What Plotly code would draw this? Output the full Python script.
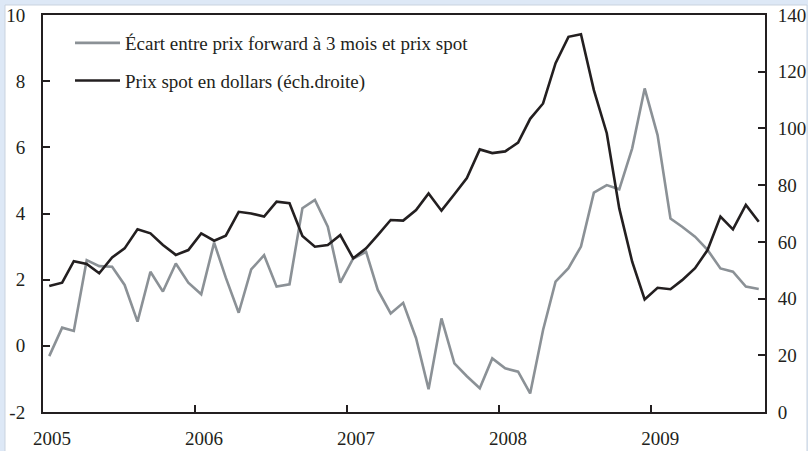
import pandas as pd
import plotly.graph_objects as go

# Monthly observations, Jan 2005 - Sep 2009
start_month = "2005-01-01"
n_months = 57

ecart = [-0.31, 0.55, 0.45, 2.59, 2.41, 2.39, 1.84, 0.73, 2.24, 1.64, 2.49, 1.91,
         1.56, 3.12, 2.06, 1.00, 2.31, 2.74, 1.79, 1.86, 4.16, 4.41, 3.60, 1.91,
         2.64, 2.84, 1.69, 0.98, 1.30, 0.23, -1.31, 0.83, -0.53, -0.92, -1.28, -0.38,
         -0.68, -0.78, -1.44, 0.48, 1.94, 2.35, 3.00, 4.63, 4.86, 4.73, 5.97, 7.78,
         6.37, 3.85, 3.60, 3.30, 2.90, 2.34, 2.24, 1.79, 1.72]

spot = [44.4, 45.6, 53.2, 52.2, 48.9, 54.5, 57.7, 64.4, 63.0, 58.9, 55.4, 57.1,
        63.0, 60.4, 62.2, 70.6, 70.0, 68.9, 74.2, 73.6, 62.1, 58.3, 58.9, 62.4,
        54.2, 57.7, 62.4, 67.7, 67.5, 71.2, 77.1, 71.0, 76.8, 82.5, 92.6, 91.3,
        91.9, 95.0, 103.4, 108.8, 123.0, 132.3, 133.2, 113.5, 98.3, 71.8, 53.0, 39.7,
        43.8, 43.3, 46.5, 50.7, 57.1, 68.9, 64.4, 73.0, 67.1]

year_labels = ["2005", "2006", "2007", "2008", "2009"]
left_ticks = [-2, 0, 2, 4, 6, 8, 10]
left_tick_text = ["-2", "0", "2", "4", "6", "8", "10"]
right_ticks = [0, 20, 40, 60, 80, 100, 120, 140]

name_ecart = "Écart entre prix forward à 3 mois et prix spot"
name_spot = "Prix spot en dollars (éch.droite)"

dates = pd.date_range(start_month, periods=n_months, freq="MS") + pd.Timedelta(days=15)
year_ticks = [f"{y}-01-01" for y in year_labels]

FONT = "Liberation Serif, DejaVu Serif, serif"
INK = "#231f20"
GRAY = "#8b9196"

fig = go.Figure()
fig.add_trace(go.Scatter(x=dates, y=ecart, name=name_ecart, mode="lines",
                         line=dict(color=GRAY, width=2.6), legendgroup="a"))
fig.add_trace(go.Scatter(x=dates, y=spot, name=name_spot, mode="lines",
                         line=dict(color=INK, width=2.6), yaxis="y2", legendgroup="b"))

W, H = 808, 451
ml, mr, mt, mb = 43, 43, 15, 39
pw, ph = W - ml - mr, H - mt - mb

def px_x(p):
    return (p - ml) / pw

def px_y(p):
    return (H - mb - p) / ph

fig.update_layout(
    width=W, height=H,
    margin=dict(l=ml, r=mr, t=mt, b=mb, pad=0, autoexpand=False),
    paper_bgcolor="#dde8f6",
    plot_bgcolor="white",
    font=dict(family=FONT, size=18, color=INK),
    showlegend=True,
    legend=dict(x=px_x(70), y=px_y(24), xanchor="left", yanchor="top",
                bgcolor="rgba(0,0,0,0)", tracegroupgap=10, itemwidth=45,
                font=dict(family=FONT, size=19, color=INK)),
    xaxis=dict(type="date", range=["2005-01-01", "2009-10-01"],
               tickvals=year_ticks, ticktext=year_labels,
               ticks="inside", ticklen=7, tickwidth=1.5, tickcolor=INK,
               showline=True, linecolor=INK, linewidth=2, mirror=True,
               showgrid=False, zeroline=False, ticklabelstandoff=8,
               ticklabelshift=9, tickfont=dict(family=FONT, size=19)),
    yaxis=dict(range=[-2, 10], tickvals=left_ticks, ticktext=left_tick_text,
               ticks="inside", ticklen=7, tickwidth=1.5, tickcolor=INK,
               showline=True, linecolor=INK, linewidth=2,
               showgrid=False, zeroline=False, ticklabelstandoff=12,
               tickfont=dict(family=FONT, size=19)),
    yaxis2=dict(range=[0, 140], tickvals=right_ticks, overlaying="y", side="right",
                ticks="inside", ticklen=7, tickwidth=1.5, tickcolor=INK,
                showline=True, linecolor=INK, linewidth=2,
                showgrid=False, zeroline=False, ticklabelstandoff=7,
                tickfont=dict(family=FONT, size=19)),
    shapes=[dict(type="rect", xref="paper", yref="paper",
                 x0=px_x(5), x1=px_x(807), y0=px_y(470), y1=px_y(5),
                 fillcolor="white", line=dict(color="#c9d3df", width=1),
                 layer="below")],
)

fig.write_html("out.html", config={"displayModeBar": False},
               post_script="document.body.style.margin='0';document.body.style.overflow='hidden';")
